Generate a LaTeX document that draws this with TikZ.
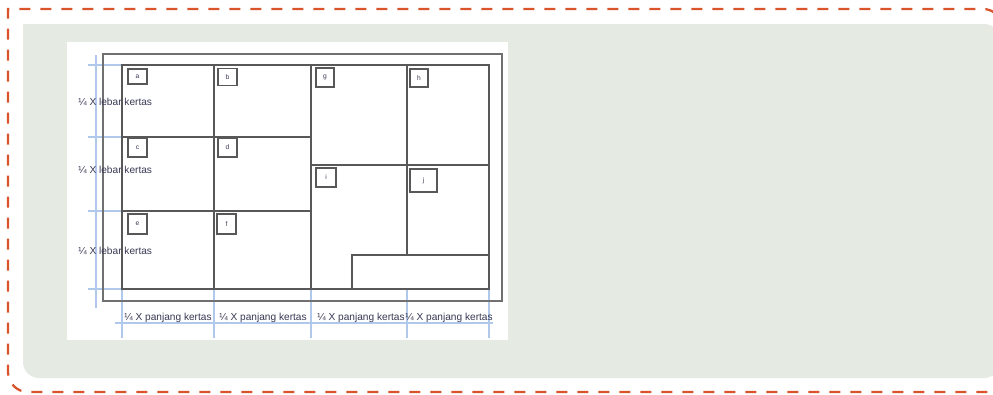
\documentclass[tikz,border=0pt]{standalone}
\usepackage{fontspec}
\setmainfont{Liberation Sans}
\definecolor{dashorange}{RGB}{217,83,43}
\definecolor{panelgray}{RGB}{229,234,227}
\definecolor{linegray}{RGB}{88,88,88}
\definecolor{framegray}{RGB}{112,112,112}
\definecolor{guideblue}{RGB}{176,200,235}
\definecolor{labeltext}{RGB}{56,56,84}
\usetikzlibrary{positioning}
\tikzset{
  partline/.style={draw=linegray, line width=1.1pt},
  guideline/.style={draw=guideblue, line width=0.8pt},
  tagbox/.style={draw=linegray, line width=1.2pt, fill=white, inner sep=0pt, font=\fontsize{5}{5}\selectfont, text=labeltext},
  dimlabel/.style={font=\fontsize{7.6}{8}\selectfont, text=labeltext, inner sep=0pt},
}

\begin{document}
\begin{tikzpicture}[x=0.75pt, y=-0.75pt]
  \useasboundingbox (0,0) rectangle (993,394);
  % Panel and dashed border
  \fill[panelgray] (23,300) -- (23,24) [rounded corners=12pt] -- (1000,24) -- (1000,378) -- (23,378) -- cycle;
  \draw[dashorange, line width=1.7pt, dash pattern=on 8.25pt off 7.5pt] (1003,200) [rounded corners=15pt] -- (1003,9) [sharp corners] -- (8,9) [rounded corners=15pt] -- (8,392) -- (1003,392);

  % Sheet
  \fill[white] (67,42) rectangle (508,340);

  % Guide lines
  \draw[guideline] (96,55) -- (96,308);
  \foreach \y in {65,137,211,289} \draw[guideline] (88,\y) -- (122,\y);
  \draw[guideline] (115,323) -- (493,323);
  \foreach \x in {122,214,311,407,489} \draw[guideline] (\x,289) -- (\x,338);

  % Outer frame and parts
  \draw[draw=framegray, line width=1.2pt] (103,54) rectangle (502,301);
  \draw[partline] (122,65) rectangle (489,289);
  \draw[partline] (214,65) -- (214,289);
  \draw[partline] (311,65) -- (311,289);
  \draw[partline] (407,65) -- (407,255);
  \draw[partline] (122,137) -- (311,137);
  \draw[partline] (122,211) -- (311,211);
  \draw[partline] (311,165) -- (489,165);
  \draw[partline] (352,289) -- (352,255) -- (489,255);

  % Part tags
  \node[tagbox, minimum width=14.25pt, minimum height=11.25pt] (taga) at (137.5,76.5) {a};
  \node[tagbox, minimum width=14.25pt, minimum height=12.75pt] (tagb) at (227.5,77) {b};
  \node[tagbox, minimum width=14.25pt, minimum height=14.25pt] (tagc) at (137.5,147.5) {c};
  \node[tagbox, minimum width=14.25pt, minimum height=14.25pt] (tagd) at (227.5,147.5) {d};
  \node[tagbox, minimum width=14.25pt, minimum height=15pt] (tage) at (137.5,224) {e};
  \node[tagbox, minimum width=14.25pt, minimum height=15pt] (tagf) at (226.5,224) {f};
  \node[tagbox, minimum width=13.5pt, minimum height=14.25pt] (tagg) at (325,77.5) {g};
  \node[tagbox, minimum width=13.5pt, minimum height=13.5pt] (tagh) at (419,78) {h};
  \node[tagbox, minimum width=15pt, minimum height=14.25pt] (tagi) at (326,177.5) {i};
  \node[tagbox, minimum width=20.25pt, minimum height=17.25pt] (tagj) at (423.5,180.5) {j};

  % Size labels
  \node[dimlabel, anchor=west] (rowa) at (78,102) {¼ X lebar kertas};
  \node[dimlabel, anchor=west] (rowb) at (78,170) {¼ X lebar kertas};
  \node[dimlabel, anchor=west] (rowc) at (78,251) {¼ X lebar kertas};
  \node[dimlabel] (cola) at (168,318) {¼ X panjang kertas};
  \node[dimlabel] (colb) at (263,318) {¼ X panjang kertas};
  \node[dimlabel] (colc) at (361,318) {¼ X panjang kertas};
  \node[dimlabel] (cold) at (449,318) {¼ X panjang kertas};
\end{tikzpicture}
\end{document}
